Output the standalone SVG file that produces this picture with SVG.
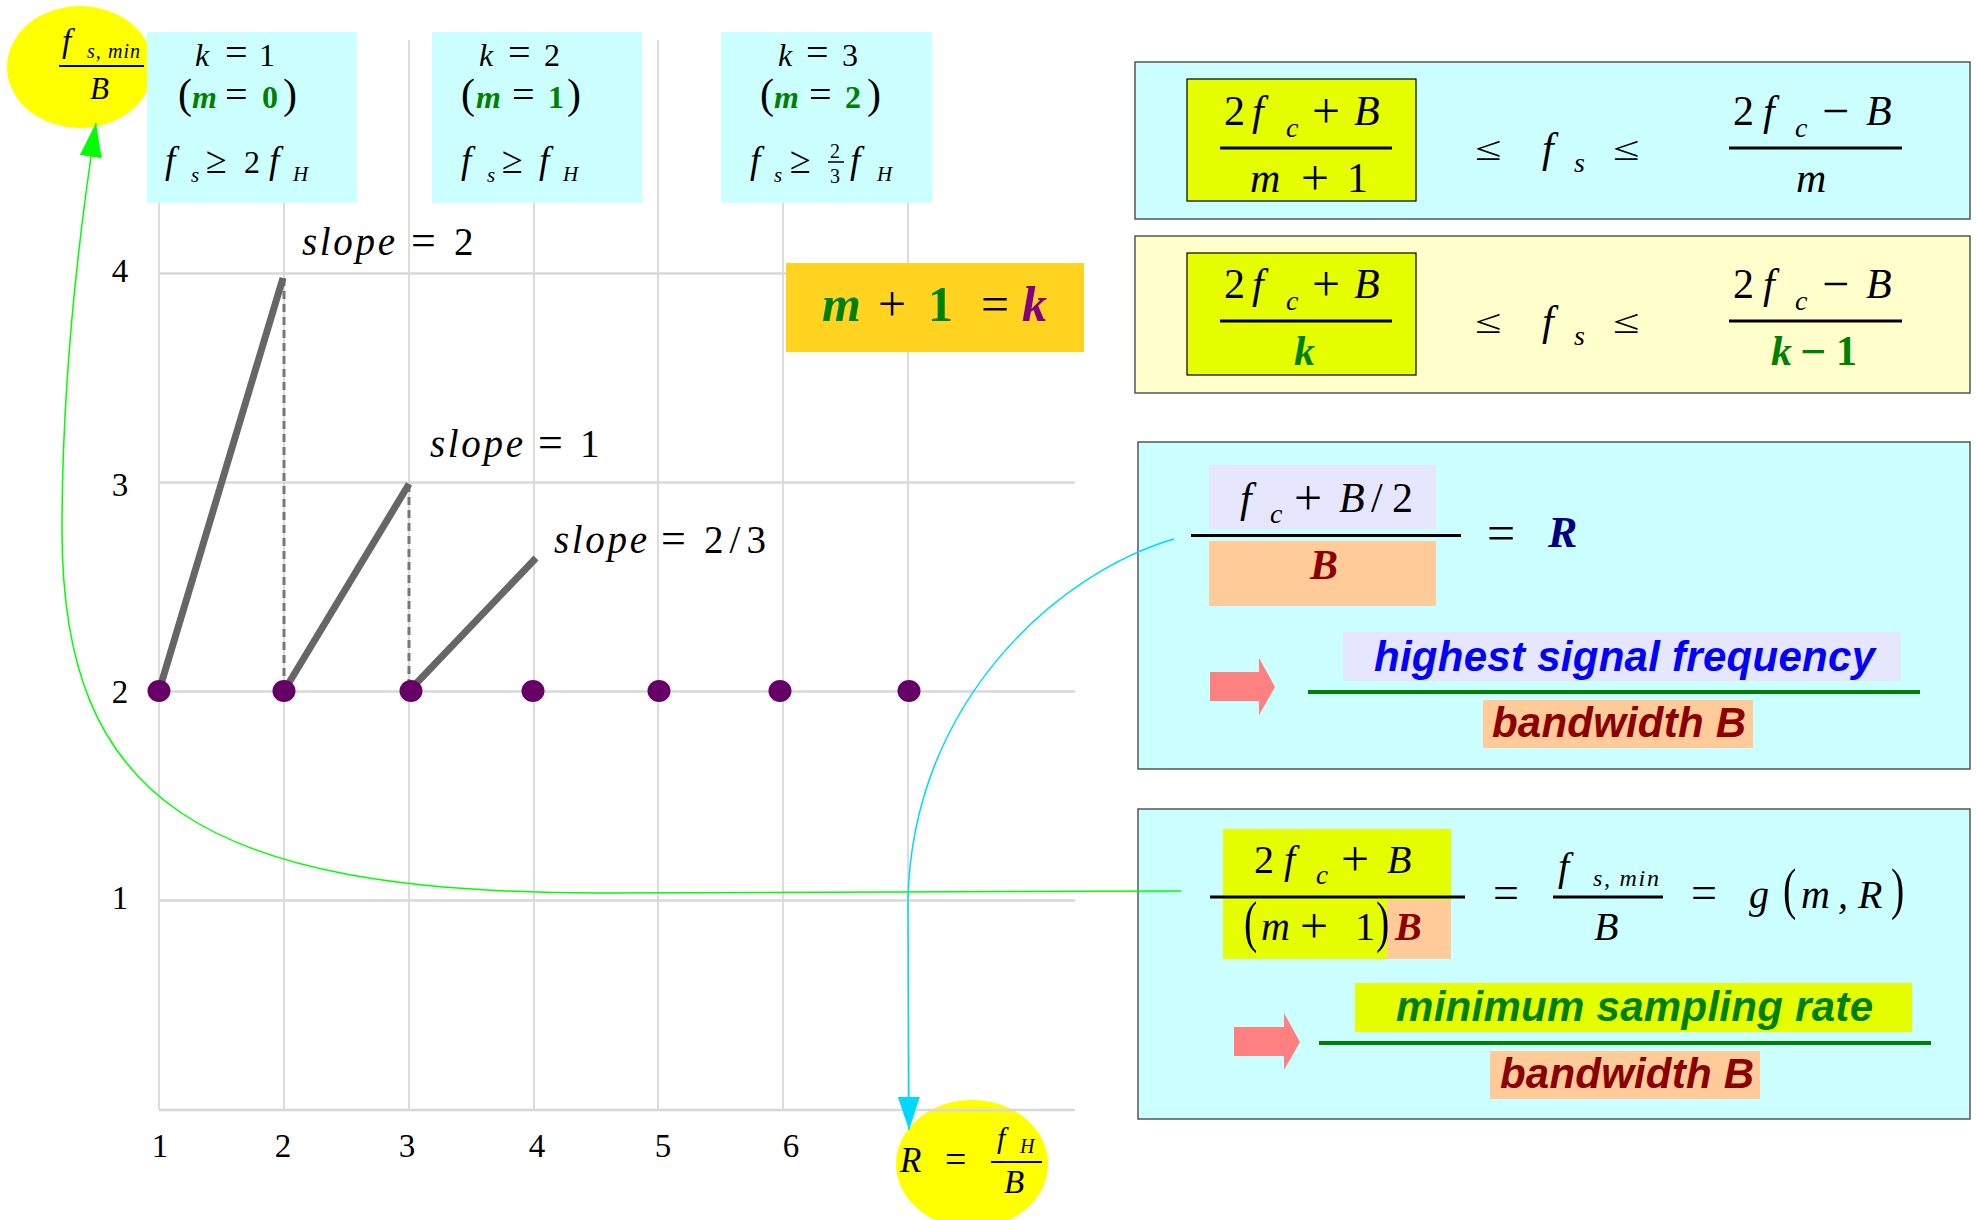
<svg xmlns="http://www.w3.org/2000/svg" width="1977" height="1220" viewBox="0 0 1977 1220">
<style>
.t{font-family:"Liberation Serif","Times New Roman",serif;fill:#000}
.i{font-style:italic}
.b{font-weight:bold}
.gr{fill:#008000}
.dr{fill:#8B0000}
.nv{fill:#000080}
.pu{fill:#800080}
.s{font-family:"Liberation Sans",Arial,sans-serif;font-weight:bold;font-style:italic;font-size:42px}
.gv{stroke:#D0D0D0;stroke-width:1.5}
.gh{stroke:#D8D8D8;stroke-width:2.5}
.sl{stroke:#666;stroke-width:7;stroke-linecap:butt}
.ds{stroke:#777;stroke-width:3;stroke-dasharray:8 5}
.dot{fill:#660066}
.bar{stroke:#000;stroke-width:3}
.bar2{stroke:#000;stroke-width:2}
.gl{stroke:#008000;stroke-width:4}
.cy{fill:#CCFFFF}
.pan{stroke:#555;stroke-width:1.5}
.ye{fill:#E6FF00}
.or{fill:#FFCC99}
.la{fill:#E6E6FF}
.arr{fill:#FF8080}
</style>
<defs>
<marker id="ag" markerUnits="userSpaceOnUse" markerWidth="36" markerHeight="24" refX="34" refY="11" orient="auto"><path d="M0,0 L34,11 L0,22 z" fill="#00FF00"/></marker>
<marker id="ac" markerUnits="userSpaceOnUse" markerWidth="36" markerHeight="24" refX="33" refY="11" orient="auto"><path d="M0,0 L33,11 L0,22 z" fill="#00D8FF"/></marker>
</defs>
<rect width="1977" height="1220" fill="#fff"/>

<g id="node-r-ellipse">
<ellipse cx="972" cy="1164" rx="76" ry="64" fill="#FFFF00"/>
<text class="t i" font-size="35" x="900" y="1172">R</text>
<text class="t" font-size="38" x="945" y="1172">=</text>
<text class="t i" font-size="30" x="997" y="1148">f</text>
<text class="t i" font-size="20" x="1020" y="1153">H</text>
<line class="bar2" x1="991" y1="1162" x2="1042" y2="1162"/>
<text class="t i" font-size="33" x="1004" y="1193">B</text>
</g>

<g id="grid">
<line class="gv" x1="159" y1="40" x2="159" y2="1110"/>
<line class="gv" x1="284" y1="40" x2="284" y2="1110"/>
<line class="gv" x1="409" y1="40" x2="409" y2="1110"/>
<line class="gv" x1="534" y1="40" x2="534" y2="1110"/>
<line class="gv" x1="658" y1="40" x2="658" y2="1110"/>
<line class="gv" x1="783" y1="40" x2="783" y2="1110"/>
<line class="gv" x1="908" y1="40" x2="908" y2="1110"/>
<line class="gh" x1="159" y1="273.5" x2="1075" y2="273.5"/>
<line class="gh" x1="159" y1="482.5" x2="1075" y2="482.5"/>
<line class="gh" x1="159" y1="691.5" x2="1075" y2="691.5"/>
<line class="gh" x1="159" y1="900.5" x2="1075" y2="900.5"/>
<line class="gh" x1="159" y1="1110" x2="1075" y2="1110"/>
<g class="t" font-size="33" text-anchor="middle">
<text x="120" y="282">4</text>
<text x="120" y="496">3</text>
<text x="120" y="703">2</text>
<text x="120" y="909">1</text>
<text x="160" y="1157">1</text>
<text x="283" y="1157">2</text>
<text x="407" y="1157">3</text>
<text x="537" y="1157">4</text>
<text x="663" y="1157">5</text>
<text x="791" y="1157">6</text>
</g>
</g>

<g id="slopes">
<line class="ds" x1="284" y1="278" x2="284" y2="691"/>
<line class="ds" x1="409" y1="484" x2="409" y2="691"/>
<line class="sl" x1="159" y1="691" x2="283" y2="278"/>
<line class="sl" x1="284" y1="691" x2="409" y2="484"/>
<line class="sl" x1="409" y1="691" x2="536" y2="558"/>
<text class="t" font-size="39" y="255"><tspan class="i" x="302" textLength="93">slope</tspan><tspan x="411" font-size="44">=</tspan><tspan x="454">2</tspan></text>
<text class="t" font-size="39" y="457"><tspan class="i" x="430" textLength="93">slope</tspan><tspan x="538" font-size="44">=</tspan><tspan x="580">1</tspan></text>
<text class="t" font-size="39" y="553"><tspan class="i" x="554" textLength="93">slope</tspan><tspan x="661" font-size="44">=</tspan><tspan x="704" textLength="62">2/3</tspan></text>
</g>

<g id="dots">
<ellipse class="dot" cx="159" cy="691" rx="11.5" ry="11"/>
<ellipse class="dot" cx="284" cy="691" rx="11.5" ry="11"/>
<ellipse class="dot" cx="411" cy="691" rx="11.5" ry="11"/>
<ellipse class="dot" cx="533" cy="691" rx="11.5" ry="11"/>
<ellipse class="dot" cx="659" cy="691" rx="11.5" ry="11"/>
<ellipse class="dot" cx="780" cy="691" rx="11.5" ry="11"/>
<ellipse class="dot" cx="909" cy="691" rx="11.5" ry="11"/>
</g>

<g id="node-fsmin-ellipse">
<ellipse cx="80" cy="67" rx="73" ry="61" fill="#FFFF00"/>
<text class="t i" font-size="33" x="62" y="52">f</text>
<text class="t i" font-size="20" x="87" y="58" textLength="53">s, min</text>
<line class="bar2" x1="59" y1="66" x2="144" y2="66"/>
<text class="t i" font-size="31" x="90" y="99">B</text>
</g>

<g id="node-k1">
<rect class="cy" x="147" y="32" width="210" height="171"/>
<text class="t" font-size="32" y="66"><tspan class="i" x="195">k</tspan><tspan x="225" font-size="40">=</tspan><tspan x="259">1</tspan></text>
<text class="t" font-size="42" x="178" y="108">(</text>
<text class="t" font-size="32" y="108"><tspan class="i b gr" x="192">m</tspan><tspan x="225" font-size="40">=</tspan><tspan class="b gr" x="262">0</tspan></text>
<text class="t" font-size="42" x="283" y="108">)</text>
<text class="t" font-size="32" y="173"><tspan class="i" x="165" font-size="37">f</tspan><tspan class="i" font-size="21" x="191" y="182">s</tspan><tspan x="206" y="173" font-size="38">≥</tspan><tspan x="244">2</tspan><tspan class="i" x="269" font-size="37">f</tspan><tspan class="i" font-size="21" x="293" y="181">H</tspan></text>
</g>

<g id="node-k2">
<rect class="cy" x="432" y="32" width="210" height="171"/>
<text class="t" font-size="32" y="66"><tspan class="i" x="479">k</tspan><tspan x="508" font-size="40">=</tspan><tspan x="544">2</tspan></text>
<text class="t" font-size="42" x="461" y="108">(</text>
<text class="t" font-size="32" y="108"><tspan class="i b gr" x="476">m</tspan><tspan x="512" font-size="40">=</tspan><tspan class="b gr" x="548">1</tspan></text>
<text class="t" font-size="42" x="567" y="108">)</text>
<text class="t" font-size="32" y="173"><tspan class="i" x="461" font-size="37">f</tspan><tspan class="i" font-size="21" x="487" y="182">s</tspan><tspan x="502" y="173" font-size="38">≥</tspan><tspan class="i" x="539" font-size="37">f</tspan><tspan class="i" font-size="21" x="563" y="181">H</tspan></text>
</g>

<g id="node-k3">
<rect class="cy" x="721" y="32" width="211" height="171"/>
<text class="t" font-size="32" y="66"><tspan class="i" x="778">k</tspan><tspan x="806" font-size="40">=</tspan><tspan x="842">3</tspan></text>
<text class="t" font-size="42" x="760" y="108">(</text>
<text class="t" font-size="32" y="108"><tspan class="i b gr" x="774">m</tspan><tspan x="809" font-size="40">=</tspan><tspan class="b gr" x="845">2</tspan></text>
<text class="t" font-size="42" x="867" y="108">)</text>
<text class="t" font-size="32" y="173"><tspan class="i" x="750" font-size="37">f</tspan><tspan class="i" font-size="21" x="774" y="182">s</tspan><tspan x="790" y="173" font-size="38">≥</tspan><tspan class="i" x="850" font-size="37">f</tspan><tspan class="i" font-size="21" x="877" y="181">H</tspan></text>
<text class="t" font-size="20" x="830" y="158">2</text>
<line stroke="#000" stroke-width="1.5" x1="828" y1="162" x2="844" y2="162"/>
<text class="t" font-size="20" x="830" y="183">3</text>
</g>

<g id="node-mk">
<rect x="786" y="263" width="298" height="89" fill="#FFD320"/>
<text class="t" font-size="50" y="321"><tspan class="i b gr" x="822">m</tspan><tspan x="878">+</tspan><tspan class="b gr" x="928">1</tspan><tspan x="981">=</tspan><tspan class="i b pu" x="1022">k</tspan></text>
</g>

<g id="node-ineq-m">
<rect class="cy pan" x="1135" y="62" width="835" height="157"/>
<rect class="ye" x="1187" y="79" width="229" height="122" stroke="#000" stroke-width="1.2"/>
<text class="t" font-size="42" y="125"><tspan x="1224">2</tspan><tspan class="i" x="1252">f</tspan><tspan class="i" font-size="28" x="1286" y="137">c</tspan><tspan x="1312" y="128" font-size="50">+</tspan><tspan class="i" x="1354" y="125">B</tspan></text>
<line class="bar" x1="1220" y1="148" x2="1392" y2="148"/>
<text class="t" font-size="42" y="192"><tspan class="i" x="1250">m</tspan><tspan x="1301" y="195" font-size="50">+</tspan><tspan x="1347" y="192">1</tspan></text>
<text class="t" font-size="42" transform="translate(1475,160) scale(1.15,0.8)">≤</text>
<text class="t i" font-size="42" x="1542" y="162">f</text>
<text class="t i" font-size="28" x="1574" y="172">s</text>
<text class="t" font-size="42" transform="translate(1613,160) scale(1.15,0.8)">≤</text>
<text class="t" font-size="42" y="125"><tspan x="1733">2</tspan><tspan class="i" x="1763">f</tspan><tspan class="i" font-size="28" x="1795" y="137">c</tspan><tspan x="1822" y="127" font-size="48">−</tspan><tspan class="i" x="1866" y="125">B</tspan></text>
<line class="bar" x1="1729" y1="148" x2="1902" y2="148"/>
<text class="t i" font-size="42" x="1796" y="192">m</text>
</g>

<g id="node-ineq-k">
<rect class="pan" fill="#FFFFCC" x="1135" y="236" width="835" height="157"/>
<rect class="ye" x="1187" y="253" width="229" height="122" stroke="#000" stroke-width="1.2"/>
<text class="t" font-size="42" y="298"><tspan x="1224">2</tspan><tspan class="i" x="1252">f</tspan><tspan class="i" font-size="28" x="1286" y="310">c</tspan><tspan x="1312" y="301" font-size="50">+</tspan><tspan class="i" x="1354" y="298">B</tspan></text>
<line class="bar" x1="1220" y1="321" x2="1392" y2="321"/>
<text class="t i b gr" font-size="42" x="1294" y="365">k</text>
<text class="t" font-size="42" transform="translate(1475,333) scale(1.15,0.8)">≤</text>
<text class="t i" font-size="42" x="1542" y="335">f</text>
<text class="t i" font-size="28" x="1574" y="345">s</text>
<text class="t" font-size="42" transform="translate(1613,333) scale(1.15,0.8)">≤</text>
<text class="t" font-size="42" y="298"><tspan x="1733">2</tspan><tspan class="i" x="1763">f</tspan><tspan class="i" font-size="28" x="1795" y="310">c</tspan><tspan x="1822" y="300" font-size="48">−</tspan><tspan class="i" x="1866" y="298">B</tspan></text>
<line class="bar" x1="1729" y1="321" x2="1902" y2="321"/>
<text class="t b gr" font-size="42" y="365"><tspan class="i" x="1771">k</tspan><tspan x="1800" y="367" font-size="46">−</tspan><tspan x="1836" y="365">1</tspan></text>
</g>

<g id="node-ratio-r">
<rect class="cy pan" x="1138" y="442" width="832" height="327"/>
<rect class="la" x="1209" y="465" width="227" height="64"/>
<rect class="or" x="1209" y="541" width="227" height="65"/>
<text class="t" font-size="42" y="512"><tspan class="i" x="1240">f</tspan><tspan class="i" font-size="28" x="1270" y="523">c</tspan><tspan x="1294" y="515" font-size="50">+</tspan><tspan class="i" x="1339" y="512">B</tspan><tspan x="1371">/</tspan><tspan x="1392">2</tspan></text>
<line class="bar" x1="1191" y1="535.5" x2="1461" y2="535.5"/>
<text class="t i b dr" font-size="42" x="1310" y="579">B</text>
<text class="t" font-size="50" x="1487" y="550">=</text>
<text class="t i b nv" font-size="44" x="1548" y="547">R</text>
<polygon class="arr" points="1210,672 1259,672 1259,658 1275,687 1259,715 1259,701 1210,701"/>
<rect class="la" x="1343" y="632" width="558" height="49"/>
<text class="s" fill="#0000FF" x="1374" y="671" textLength="501">highest signal frequency</text>
<line class="gl" x1="1308" y1="692" x2="1920" y2="692"/>
<rect class="or" x="1483" y="700" width="270" height="48"/>
<text class="s dr" x="1492" y="737" textLength="254">bandwidth B</text>
</g>

<g id="node-fsmin-ratio">
<rect class="cy pan" x="1138" y="809" width="832" height="310"/>
<rect class="ye" x="1223" y="829" width="228" height="130"/>
<rect class="or" x="1387" y="900" width="64" height="59"/>
<text class="t" font-size="40" y="873"><tspan x="1254">2</tspan><tspan class="i" x="1284">f</tspan><tspan class="i" font-size="27" x="1316" y="884">c</tspan><tspan x="1341" y="876" font-size="50">+</tspan><tspan class="i" x="1387" y="873">B</tspan></text>
<line class="bar" x1="1210" y1="897" x2="1465" y2="897"/>
<text class="t" font-size="40" transform="translate(1244,941) scale(1,1.45)">(</text>
<text class="t" font-size="40" y="940"><tspan class="i" x="1261">m</tspan><tspan x="1300" y="943" font-size="50">+</tspan><tspan x="1355" y="940">1</tspan></text>
<text class="t" font-size="40" transform="translate(1376,941) scale(1,1.45)">)</text>
<text class="t i b dr" font-size="40" x="1395" y="940">B</text>
<text class="t" font-size="46" x="1493" y="908">=</text>
<text class="t i" font-size="40" x="1558" y="880">f</text>
<text class="t i" font-size="24" x="1593" y="886" textLength="66">s, min</text>
<line class="bar" x1="1553" y1="897" x2="1663" y2="897"/>
<text class="t i" font-size="40" x="1594" y="940">B</text>
<text class="t" font-size="46" x="1691" y="908">=</text>
<text class="t i" font-size="40" x="1749" y="908">g</text>
<text class="t" font-size="40" transform="translate(1783,908) scale(1,1.45)">(</text>
<text class="t i" font-size="40" y="908"><tspan x="1801">m</tspan><tspan x="1838">,</tspan><tspan x="1858">R</tspan></text>
<text class="t" font-size="40" transform="translate(1891,908) scale(1,1.45)">)</text>
<polygon class="arr" points="1234,1027 1284,1027 1284,1013 1300,1042 1284,1070 1284,1056 1234,1056"/>
<rect class="ye" x="1355" y="983" width="557" height="49"/>
<text class="s gr" x="1396" y="1021" textLength="477">minimum sampling rate</text>
<line class="gl" x1="1319" y1="1043" x2="1931" y2="1043"/>
<rect class="or" x="1490" y="1051" width="270" height="48"/>
<text class="s dr" x="1500" y="1088" textLength="254">bandwidth B</text>
</g>

<g id="connectors" fill="none">
<path d="M1181,891 L600,893 C200,893 62,800 62,530 C62,380 78,240 96,123" stroke="#00FF00" stroke-width="1.5" marker-end="url(#ag)"/>
<path d="M1174,539 C1060,572 912,700 908,900 L909,1130" stroke="#00D8FF" stroke-width="1.5" marker-end="url(#ac)"/>
</g>
</svg>
